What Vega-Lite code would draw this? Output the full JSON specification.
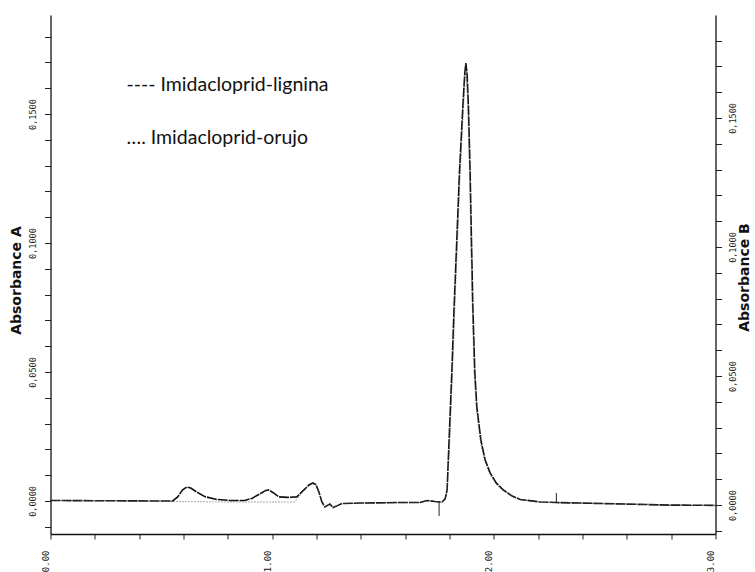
{
  "$schema": "https://vega.github.io/schema/vega-lite/v6.json",
  "width": 665,
  "height": 519,
  "autosize": "none",
  "padding": {"left": 50.5, "top": 15, "right": 39.5, "bottom": 38},
  "background": "white",
  "config": {
    "view": {"stroke": null},
    "axis": {"grid": false, "domainColor": "#111", "domainWidth": 1.3, "tickColor": "#222", "labelColor": "#222", "labelFont": "DejaVu Sans Mono", "titleFont": "DejaVu Sans", "titleFontWeight": "bold", "titleColor": "#111"}
  },
  "datasets": {
    "lig": [
      {"t": 0, "a": 0.0002}, {"t": 0.2214, "a": 0.0001}, {"t": 0.4473, "a": 0}, {"t": 0.5512, "a": 0},
      {"t": 0.5738, "a": 0.0016}, {"t": 0.5964, "a": 0.0043}, {"t": 0.6145, "a": 0.0054}, {"t": 0.6325, "a": 0.005},
      {"t": 0.6596, "a": 0.0035}, {"t": 0.6958, "a": 0.0017}, {"t": 0.75, "a": 0.0006}, {"t": 0.8087, "a": 0.0002},
      {"t": 0.8765, "a": 0.0002}, {"t": 0.9081, "a": 0.001}, {"t": 0.9443, "a": 0.0027}, {"t": 0.9714, "a": 0.0041},
      {"t": 0.985, "a": 0.0043}, {"t": 1.003, "a": 0.0033}, {"t": 1.0301, "a": 0.0016}, {"t": 1.0708, "a": 0.0014},
      {"t": 1.1115, "a": 0.0016}, {"t": 1.1386, "a": 0.0039}, {"t": 1.1657, "a": 0.0062}, {"t": 1.1838, "a": 0.007},
      {"t": 1.1973, "a": 0.0064}, {"t": 1.2109, "a": 0.0035}, {"t": 1.2244, "a": -0.0004}, {"t": 1.238, "a": -0.0023},
      {"t": 1.2515, "a": -0.0016}, {"t": 1.2606, "a": -0.0012}, {"t": 1.2741, "a": -0.0025}, {"t": 1.2922, "a": -0.0019},
      {"t": 1.3148, "a": -0.001}, {"t": 1.3961, "a": -0.0008}, {"t": 1.5768, "a": -0.0006}, {"t": 1.6672, "a": -0.0006},
      {"t": 1.6988, "a": 0.0002}, {"t": 1.735, "a": -0.0002}, {"t": 1.7666, "a": -0.0004}, {"t": 1.7802, "a": 0.0008},
      {"t": 1.7892, "a": 0.0043}, {"t": 1.7982, "a": 0.0236}, {"t": 1.8104, "a": 0.0496}, {"t": 1.8208, "a": 0.0752},
      {"t": 1.833, "a": 0.1012}, {"t": 1.8448, "a": 0.1271}, {"t": 1.8601, "a": 0.1527}, {"t": 1.8683, "a": 0.1651},
      {"t": 1.8737, "a": 0.1698}, {"t": 1.8796, "a": 0.1651}, {"t": 1.8854, "a": 0.1527}, {"t": 1.8931, "a": 0.1271},
      {"t": 1.899, "a": 0.1012}, {"t": 1.9053, "a": 0.0752}, {"t": 1.9143, "a": 0.0496}, {"t": 1.9234, "a": 0.0364},
      {"t": 1.9415, "a": 0.0236}, {"t": 1.9609, "a": 0.0159}, {"t": 1.9835, "a": 0.0109}, {"t": 2.0106, "a": 0.007},
      {"t": 2.0422, "a": 0.0043}, {"t": 2.0829, "a": 0.0019}, {"t": 2.119, "a": 0.0006}, {"t": 2.2094, "a": -0.0004},
      {"t": 2.2817, "a": -0.0006}, {"t": 2.3901, "a": -0.0008}, {"t": 2.598, "a": -0.0012}, {"t": 2.7967, "a": -0.0016},
      {"t": 3.0, "a": -0.0017}
    ],
    "oru": [
      {"t": 0, "a": 0.0002}, {"t": 0.4473, "a": 0}, {"t": 0.5512, "a": -0.0002}, {"t": 0.8, "a": -0.0004},
      {"t": 1.1, "a": -0.0004}, {"t": 1.1386, "a": 0.0036}, {"t": 1.1657, "a": 0.0059}, {"t": 1.1838, "a": 0.0067},
      {"t": 1.1973, "a": 0.0061}, {"t": 1.2109, "a": 0.0032}, {"t": 1.2244, "a": -0.0005}, {"t": 1.238, "a": -0.0022},
      {"t": 1.2515, "a": -0.0016}, {"t": 1.2606, "a": -0.0013}, {"t": 1.2741, "a": -0.0024}, {"t": 1.2922, "a": -0.0018},
      {"t": 1.3148, "a": -0.001}, {"t": 1.5768, "a": -0.0007}, {"t": 1.6672, "a": -0.0006}, {"t": 1.6988, "a": 0.0001},
      {"t": 1.735, "a": -0.0003}, {"t": 1.7666, "a": -0.0004}, {"t": 1.7802, "a": 0.0006}, {"t": 1.7892, "a": 0.0035},
      {"t": 1.8012, "a": 0.0232}, {"t": 1.8134, "a": 0.049}, {"t": 1.8238, "a": 0.0745}, {"t": 1.836, "a": 0.1005},
      {"t": 1.8478, "a": 0.1262}, {"t": 1.8626, "a": 0.1515}, {"t": 1.8703, "a": 0.164}, {"t": 1.874, "a": 0.1672},
      {"t": 1.8776, "a": 0.164}, {"t": 1.8829, "a": 0.1515}, {"t": 1.8906, "a": 0.1262}, {"t": 1.8965, "a": 0.1005},
      {"t": 1.9028, "a": 0.0745}, {"t": 1.9118, "a": 0.049}, {"t": 1.921, "a": 0.036}, {"t": 1.939, "a": 0.0232},
      {"t": 1.958, "a": 0.0155}, {"t": 1.981, "a": 0.0105}, {"t": 2.008, "a": 0.0067}, {"t": 2.04, "a": 0.0041},
      {"t": 2.08, "a": 0.0018}, {"t": 2.119, "a": 0.0005}, {"t": 2.2094, "a": -0.0005}, {"t": 2.39, "a": -0.0008},
      {"t": 2.598, "a": -0.0012}, {"t": 2.7967, "a": -0.0016}, {"t": 3.0, "a": -0.0017}
    ],
    "markers": [
      {"t": 1.753, "a1": -0.0004, "a2": -0.0058},
      {"t": 2.282, "a1": 0.0031, "a2": -0.0008}
    ],
    "notes": [
      {"t": 0.343, "a": 0.1589, "label": "---- Imidacloprid-lignina"},
      {"t": 0.343, "a": 0.1384, "label": "…. Imidacloprid-orujo"}
    ]
  },
  "encoding": {
    "x": {
      "field": "t", "type": "quantitative",
      "scale": {"domain": [0, 3], "nice": false, "zero": false},
      "axis": {
        "title": null,
        "values": [0, 0.2, 0.4, 0.6, 0.8, 1, 1.2, 1.4, 1.6, 1.8, 2, 2.2, 2.4, 2.6, 2.8, 3],
        "labelExpr": "round(datum.value * 10) % 10 === 0 ? format(datum.value, '.2f') : ''",
        "labelAngle": 270, "labelAlign": "right", "labelBaseline": "middle",
        "labelFontSize": 9, "labelPadding": 11, "labelOffset": -5, "tickSize": 5
      }
    }
  },
  "layer": [
    {
      "data": {"name": "lig"},
      "mark": {"type": "line", "color": "#111", "strokeWidth": 1.6, "strokeDash": [10, 1]},
      "encoding": {
        "y": {
          "field": "a", "type": "quantitative",
          "scale": {"domain": [-0.0128, 0.1884], "nice": false, "zero": false},
          "axis": {
            "orient": "left", "title": "Absorbance A",
            "values": [-0.01, 0, 0.01, 0.02, 0.03, 0.04, 0.05, 0.06, 0.07, 0.08, 0.09, 0.1, 0.11, 0.12, 0.13, 0.14, 0.15, 0.16, 0.17, 0.18],
            "labelExpr": "abs(round(datum.value * 1000)) % 50 === 0 ? replace(format(datum.value, '.4f'), '.', ',') : ''",
            "labelAngle": 270, "labelAlign": "center", "labelBaseline": "bottom",
            "labelFontSize": 8.5, "labelPadding": 7, "tickSize": 6,
            "titleFontSize": 14, "titleAngle": 270, "titleAlign": "center", "titleBaseline": "middle",
            "titleX": -34.5, "titleY": 265
          }
        }
      }
    },
    {
      "data": {"name": "oru"},
      "mark": {"type": "line", "color": "#555", "strokeWidth": 1, "strokeDash": [1, 2]},
      "encoding": {
        "y": {"field": "a", "type": "quantitative", "scale": {"domain": [-0.0128, 0.1884], "nice": false, "zero": false}, "axis": null}
      }
    },
    {
      "data": {"name": "oru"},
      "mark": {"type": "point", "opacity": 0},
      "encoding": {
        "y": {
          "field": "a", "type": "quantitative",
          "scale": {"domain": [-0.0112, 0.1899], "nice": false, "zero": false},
          "axis": {
            "orient": "right", "title": "Absorbance B",
            "values": [-0.01, 0, 0.01, 0.02, 0.03, 0.04, 0.05, 0.06, 0.07, 0.08, 0.09, 0.1, 0.11, 0.12, 0.13, 0.14, 0.15, 0.16, 0.17, 0.18],
            "labelExpr": "abs(round(datum.value * 1000)) % 50 === 0 ? replace(format(datum.value, '.4f'), '.', ',') : ''",
            "labelAngle": 270, "labelAlign": "center", "labelBaseline": "top",
            "labelFontSize": 8.5, "labelPadding": 7, "tickSize": 6,
            "titleFontSize": 14, "titleAngle": 270, "titleAlign": "center", "titleBaseline": "middle",
            "titleX": 28.5, "titleY": 262
          }
        }
      }
    },
    {
      "data": {"name": "markers"},
      "mark": {"type": "rule", "color": "#222", "strokeWidth": 1},
      "encoding": {
        "y": {"field": "a1", "type": "quantitative", "scale": {"domain": [-0.0128, 0.1884], "nice": false, "zero": false}, "axis": null},
        "y2": {"field": "a2"}
      }
    },
    {
      "data": {"name": "notes"},
      "mark": {"type": "text", "align": "left", "baseline": "alphabetic", "font": "Lato", "fontSize": 19.5, "color": "#111"},
      "encoding": {
        "y": {"field": "a", "type": "quantitative", "scale": {"domain": [-0.0128, 0.1884], "nice": false, "zero": false}, "axis": null},
        "text": {"field": "label"}
      }
    }
  ],
  "resolve": {"scale": {"y": "independent"}}
}
